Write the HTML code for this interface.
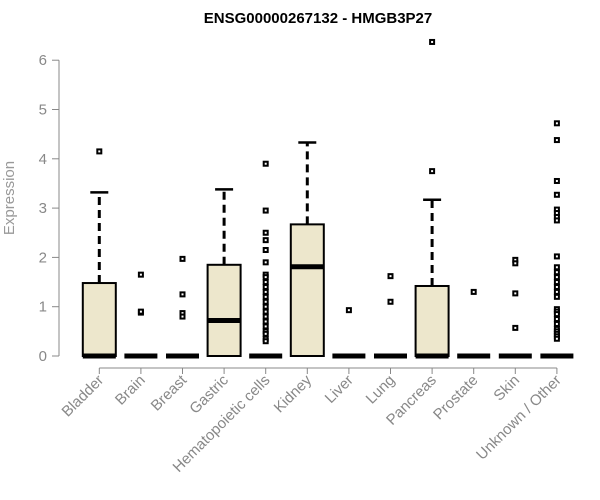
<!DOCTYPE html>
<html><head><meta charset="utf-8"><style>
body{margin:0;background:#fff;}
svg{display:block;font-family:"Liberation Sans",Arial,sans-serif;}
</style></head><body>
<svg id="chart" width="600" height="500">
<text x="318" y="23" text-anchor="middle" font-size="15" font-weight="bold">ENSG00000267132 - HMGB3P27</text>
<text transform="translate(14,198) rotate(-90)" text-anchor="middle" font-size="15" fill="#999">Expression</text>
<g id="yaxis"></g>
<g id="xaxis"></g>
<g id="boxes"></g>
</svg>
<script>
const categories=["Bladder","Brain","Breast","Gastric","Hematopoietic cells","Kidney","Liver","Lung","Pancreas","Prostate","Skin","Unknown / Other"];
const q1=[0,0,0,0,0,0,0,0,0,0,0,0];
const medians=[0,0,0,0.72,0,1.81,0,0,0,0,0,0];
const q3=[1.48,0,0,1.85,0,2.67,0,0,1.42,0,0,0];
const whiskerHigh=[3.32,0,0,3.38,0,4.33,0,0,3.17,0,0,0];
const outliers=[[4.15],[1.65,0.88,0.9],[1.97,1.25,0.87,0.8],[],
[3.9,2.95,2.5,2.35,2.15,1.9,1.65,1.6,1.5,1.4,1.3,1.2,1.1,1.0,0.9,0.8,0.7,0.6,0.5,0.45,0.35,0.3],
[],[0.93],[1.62,1.1],[6.37,3.75],[1.3],[1.95,1.88,1.27,0.57],
[4.72,4.38,3.55,3.27,2.97,2.9,2.82,2.75,2.02,1.8,1.7,1.6,1.5,1.4,1.3,1.2,0.95,0.9,0.85,0.75,0.65,0.55,0.5,0.45,0.4,0.35]];
const yTicks=[0,1,2,3,4,5,6];
const NS="http://www.w3.org/2000/svg";
const y=v=>356-v*49.3;
const x=i=>99.3+i*41.6;
function mk(parent,tag,attrs){const e=document.createElementNS(NS,tag);for(const k in attrs)e.setAttribute(k,attrs[k]);parent.appendChild(e);return e;}
const ya=document.getElementById('yaxis'),xa=document.getElementById('xaxis'),bx=document.getElementById('boxes');
let l=mk(ya,'line',{x1:59,x2:59,y1:y(0),y2:y(6),stroke:'#888'});


yTicks.forEach(t=>{
 const tk=mk(ya,'line',{x1:52,x2:59,y1:y(t),y2:y(t),stroke:'#888'});
 
 
 const tx=mk(ya,'text',{x:47,y:y(t)+5,'text-anchor':'end','font-size':15,fill:'#888'});
 tx.textContent=t;
 
 
});
const xl=mk(xa,'line',{x1:x(0),x2:x(categories.length-1),y1:368,y2:368,stroke:'#888'});


categories.forEach((c,i)=>{
 const tk=mk(xa,'line',{x1:x(i),x2:x(i),y1:368,y2:374,stroke:'#888'});
 
 
 const tx=mk(xa,'text',{transform:`translate(${x(i)+5},${381}) rotate(-45)`,'text-anchor':'end','font-size':15,fill:'#888'});
 tx.textContent=c;
 
 
 const g=mk(bx,'g',{});
 
 
 const cx=x(i),hw=16.5;
 if(whiskerHigh[i]>q3[i]){
  mk(g,'line',{x1:cx,x2:cx,y1:y(q3[i]),y2:y(whiskerHigh[i]),stroke:'#000','stroke-width':3,'stroke-dasharray':'8,5'});
  mk(g,'line',{x1:cx-9,x2:cx+9,y1:y(whiskerHigh[i]),y2:y(whiskerHigh[i]),stroke:'#000','stroke-width':2.5});
 }
 if(q3[i]>q1[i]){
  mk(g,'rect',{x:cx-hw,y:y(q3[i]),width:hw*2,height:y(q1[i])-y(q3[i]),fill:'#ede7cc',stroke:'#000','stroke-width':2});
 }
 mk(g,'line',{x1:cx-hw,x2:cx+hw,y1:y(medians[i]),y2:y(medians[i]),stroke:'#000','stroke-width':5});
 outliers[i].forEach(v=>{
  const p=mk(g,'rect',{x:cx-2,y:y(v)-2,width:4,height:4,fill:'#fff',stroke:'#000','stroke-width':2});
  
  
 });
});
</script>
</body></html>
